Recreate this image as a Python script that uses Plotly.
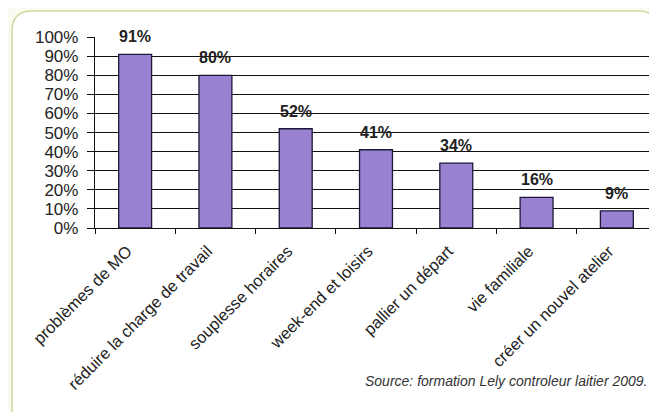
import plotly.graph_objects as go

categories = ["problèmes de MO", "réduire la charge de travail", "souplesse horaires",
              "week-end et loisirs", "pallier un départ", "vie familiale",
              "créer un nouvel atelier"]
values = [0.91, 0.80, 0.52, 0.41, 0.34, 0.16, 0.09]
value_labels = ["91%", "80%", "52%", "41%", "34%", "16%", "9%"]
source_text = "Source: formation Lely controleur laitier 2009."

# page body has an 8px margin, so the figure is drawn 8px right/down
OFF = 8
W, H = 657 - OFF, 412 - OFF
L, R, T, B = 95 - OFF, 0, 37 - OFF, 184
pw, ph = W - L - R, H - T - B

def px(x):
    return (x - OFF - L) / pw

def py(y):
    return (H - B - (y - OFF)) / ph

fig = go.Figure()
fig.add_trace(go.Bar(
    x=categories, y=values,
    marker=dict(color="#9a82d2", line=dict(color="#1c1838", width=1.3)),
    width=0.41, hoverinfo="skip"))

for c, v, t in zip(categories, values, value_labels):
    fig.add_annotation(x=c, y=v, text=f"<b>{t}</b>", showarrow=False,
                       yanchor="bottom", yshift=7,
                       font=dict(family="Liberation Sans, Arial", size=16, color="#222"))

fig.add_annotation(xref="paper", yref="paper", x=px(649), y=py(381),
                   xanchor="right", yanchor="middle", text=f"<i>{source_text}</i>",
                   showarrow=False,
                   font=dict(family="Liberation Sans, Arial", size=14, color="#333"))

# rounded frame
x0, y0, x1, y1, r = 12, 11, 680, 430, 20
path = (f"M {px(x0)},{py(y1)} L {px(x0)},{py(y0 + r)} "
        f"Q {px(x0)},{py(y0)} {px(x0 + r)},{py(y0)} "
        f"L {px(640)},{py(y0)} Q {px(652)},{py(y0)} {px(662)},{py(y0 + 14)} "
        f"L {px(x1)},{py(y1)} Z")
fig.add_shape(type="path", path=path, xref="paper", yref="paper",
              line=dict(color="#c9db9c", width=1.5), fillcolor="white", layer="below")

fig.update_layout(
    width=W, height=H,
    margin=dict(l=L, r=R, t=T, b=B, autoexpand=False),
    paper_bgcolor="#fbfbf2", plot_bgcolor="rgba(0,0,0,0)",
    showlegend=False,
    font=dict(family="Liberation Sans, Arial", color="#222"),
    xaxis=dict(tickangle=-45, tickson="boundaries", ticks="outside", ticklen=5,
               tickcolor="#111", showline=True, linecolor="#111", linewidth=1.3,
               tickfont=dict(size=16.5, color="#222"), showgrid=False,
               ticklabelstandoff=6, ticklabelshift=-8, automargin=False),
    yaxis=dict(range=[0, 1.0005], tickvals=[i / 10 for i in range(11)],
               tickformat=".0%", ticks="outside", ticklen=7, tickcolor="#111",
               showline=True, linecolor="#111", linewidth=1.3,
               gridcolor="#111", gridwidth=1.2, zeroline=False,
               ticklabelstandoff=5,
               tickfont=dict(size=17, color="#222"), automargin=False),
)

fig.write_html("out.html")
